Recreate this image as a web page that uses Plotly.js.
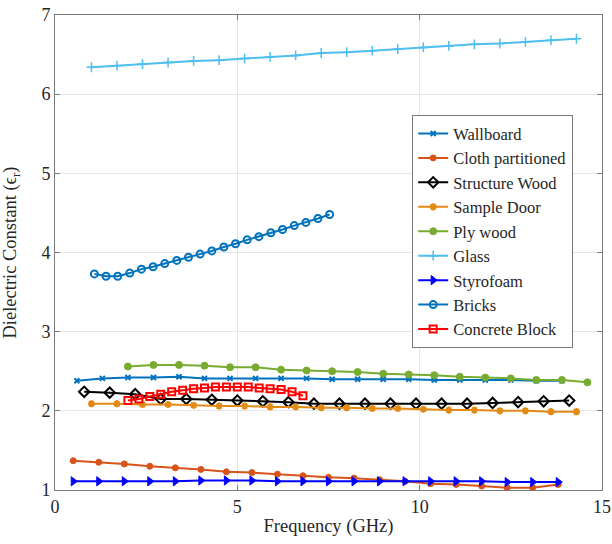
<!DOCTYPE html>
<html>
<head>
<meta charset="utf-8">
<script src="https://cdn.plot.ly/plotly-3.0.1.min.js"></script>
</head>
<body style="margin:0;background:#fff">
<div id="chart"></div>
<script>
// Data
const wallboardX = [0.6,1.3,2.0,2.7,3.4,4.1,4.8,5.5,6.2,6.9,7.6,8.3,9.0,9.7,10.4,11.1,11.8,12.5,13.2,13.9];
const wallboardY = [2.38,2.41,2.42,2.42,2.43,2.41,2.41,2.41,2.41,2.41,2.40,2.40,2.40,2.40,2.39,2.39,2.39,2.39,2.38,2.38];

const clothX = [0.5,1.2,1.9,2.6,3.3,4.0,4.7,5.4,6.1,6.8,7.5,8.2,8.9,9.6,10.3,11.0,11.7,12.4,13.1,13.8];
const clothY = [1.37,1.35,1.33,1.30,1.28,1.26,1.23,1.22,1.20,1.18,1.16,1.15,1.13,1.11,1.08,1.07,1.05,1.03,1.03,1.07];

const structWoodX = [0.8,1.5,2.2,2.9,3.6,4.3,5.0,5.7,6.4,7.1,7.8,8.5,9.2,9.9,10.6,11.3,12.0,12.7,13.4,14.1];
const structWoodY = [2.24,2.23,2.21,2.15,2.15,2.14,2.13,2.12,2.11,2.09,2.09,2.09,2.09,2.09,2.09,2.09,2.10,2.11,2.12,2.13];

const doorX = [1.0,1.7,2.4,3.1,3.8,4.5,5.2,5.9,6.6,7.3,8.0,8.7,9.4,10.1,10.8,11.5,12.2,12.9,13.6,14.3];
const doorY = [2.09,2.09,2.08,2.08,2.07,2.06,2.06,2.05,2.05,2.04,2.04,2.03,2.03,2.02,2.01,2.01,2.00,2.00,1.99,1.99];

const plyX = [2.0,2.7,3.4,4.1,4.8,5.5,6.2,6.9,7.6,8.3,9.0,9.7,10.4,11.1,11.8,12.5,13.2,13.9,14.6];
const plyY = [2.56,2.58,2.58,2.57,2.55,2.55,2.52,2.51,2.50,2.49,2.47,2.46,2.45,2.43,2.42,2.41,2.39,2.39,2.36];

const glassX = [1.0,1.7,2.4,3.1,3.8,4.5,5.2,5.9,6.6,7.3,8.0,8.7,9.4,10.1,10.8,11.5,12.2,12.9,13.6,14.3];
const glassY = [6.34,6.36,6.38,6.40,6.42,6.43,6.45,6.47,6.49,6.52,6.53,6.55,6.57,6.59,6.61,6.63,6.64,6.66,6.68,6.70];

const styroX = [0.5,1.2,1.9,2.6,3.3,4.0,4.7,5.4,6.1,6.8,7.5,8.2,8.9,9.6,10.3,11.0,11.7,12.4,13.1,13.8];
const styroY = [1.11,1.11,1.11,1.11,1.11,1.12,1.12,1.12,1.11,1.11,1.11,1.11,1.11,1.11,1.11,1.11,1.11,1.10,1.10,1.10];

const bricksX = [1.08,1.4,1.72,2.05,2.37,2.69,3.01,3.34,3.66,3.98,4.3,4.63,4.95,5.27,5.59,5.92,6.24,6.56,6.88,7.21,7.53];
const bricksY = [3.73,3.70,3.70,3.74,3.79,3.82,3.86,3.90,3.94,3.98,4.02,4.07,4.11,4.16,4.20,4.25,4.29,4.34,4.38,4.43,4.48];

const concreteX = [2.0,2.3,2.6,2.9,3.2,3.5,3.8,4.1,4.4,4.7,5.0,5.3,5.6,5.9,6.2,6.5,6.8];
const concreteY = [2.13,2.15,2.18,2.21,2.24,2.26,2.28,2.29,2.30,2.30,2.30,2.30,2.29,2.28,2.27,2.24,2.19];

const seriesNames = ["Wallboard","Cloth partitioned","Structure Wood","Sample Door","Ply wood","Glass","Styrofoam","Bricks","Concrete Block"];

function makeTrace(x, y, name, color, symbol, size, mlw) {
  return {
    x: x, y: y, name: name, type: 'scatter', mode: 'lines+markers',
    line: {color: color, width: 2},
    marker: {symbol: symbol, size: size, color: color, line: {color: color, width: mlw}}
  };
}

const data = [
  makeTrace(wallboardX, wallboardY, seriesNames[0], '#0072BD', 'x-thin-open', 5, 2),
  makeTrace(clothX, clothY, seriesNames[1], '#D95319', 'circle', 6, 1),
  makeTrace(structWoodX, structWoodY, seriesNames[2], '#000000', 'diamond-open', 8, 2),
  makeTrace(doorX, doorY, seriesNames[3], '#E38A14', 'asterisk-open', 6, 2),
  makeTrace(plyX, plyY, seriesNames[4], '#77AC30', 'circle', 7, 1),
  makeTrace(glassX, glassY, seriesNames[5], '#4DBEEE', 'cross-thin-open', 7, 1.5),
  makeTrace(styroX, styroY, seriesNames[6], '#0000FF', 'triangle-right', 8, 1),
  makeTrace(bricksX, bricksY, seriesNames[7], '#0072BD', 'circle-open', 7, 2),
  makeTrace(concreteX, concreteY, seriesNames[8], '#FF0000', 'square-open', 7, 2)
];

const layout = {
  width: 612, height: 544,
  margin: {l: 55, r: 10, t: 15, b: 54},
  paper_bgcolor: '#ffffff', plot_bgcolor: '#ffffff',
  font: {family: 'Liberation Serif', size: 17, color: '#262626'},
  showlegend: true,
  xaxis: {
    range: [0, 15], dtick: 5, tick0: 0,
    showgrid: true, gridcolor: '#e6e6e6', zeroline: false,
    showline: true, linecolor: '#7a7a7a', linewidth: 1, mirror: 'ticks',
    ticks: 'inside', ticklen: 5, tickcolor: '#7a7a7a',
    tickfont: {family: 'Liberation Serif', size: 18, color: '#262626'},
    title: {text: 'Frequency (GHz)', font: {family: 'Liberation Serif', size: 18.5, color: '#262626'}, standoff: 3}
  },
  yaxis: {
    range: [1, 7], dtick: 1, tick0: 1,
    showgrid: true, gridcolor: '#e6e6e6', zeroline: false,
    showline: true, linecolor: '#7a7a7a', linewidth: 1, mirror: 'ticks',
    ticks: 'inside', ticklen: 5, tickcolor: '#7a7a7a',
    tickfont: {family: 'Liberation Serif', size: 18, color: '#262626'},
    title: {text: 'Dielectric Constant (\u03f5<sub>r</sub>)', font: {family: 'Liberation Serif', size: 18.5, color: '#262626'}, standoff: 20}
  },
  legend: {
    x: 0.653, y: 0.789, xanchor: 'left', yanchor: 'top',
    bgcolor: '#ffffff', bordercolor: '#7a7a7a', borderwidth: 1,
    font: {family: 'Liberation Serif', size: 16.5, color: '#262626'},
    tracegroupgap: 0, itemwidth: 30
  }
};

Plotly.newPlot('chart', data, layout, {displayModeBar: false});
</script>
</body>
</html>
